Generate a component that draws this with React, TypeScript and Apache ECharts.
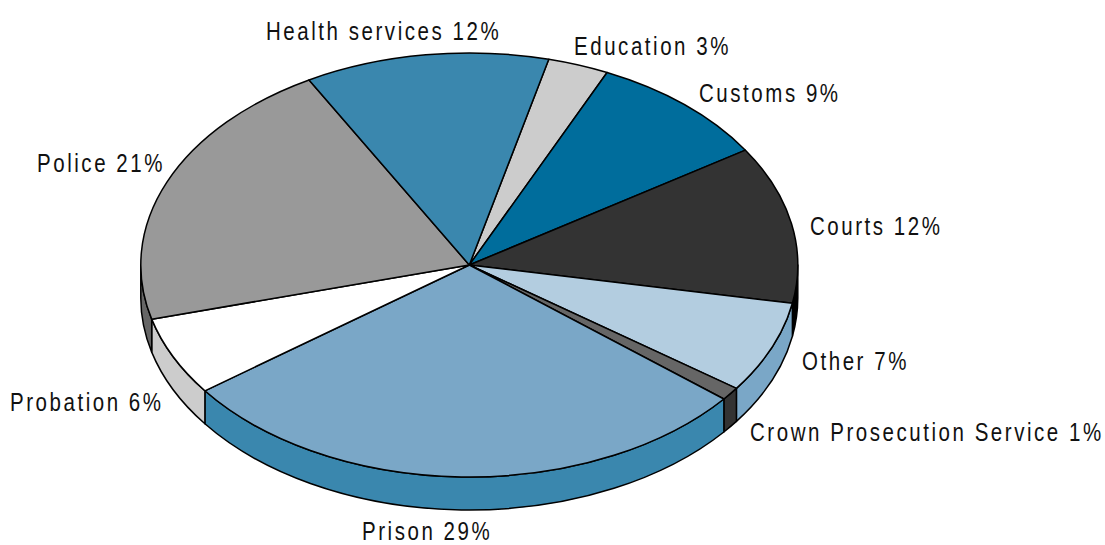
import React, { useEffect, useRef } from "react";
import * as echarts from "echarts";

// Spending shares, clockwise from the Education slice
const categories = ["Education", "Customs", "Courts", "Other", "Crown Prosecution Service", "Prison", "Probation", "Police", "Health services"];
const shares = [3, 9, 12, 7, 1, 29, 6, 21, 12];

const topColours = ["#cccccc", "#006d9c", "#333333", "#b3cde0", "#666666", "#7aa7c7", "#ffffff", "#999999", "#3a87ae"];
const wallColours = ["#999999", "#00527a", "#000000", "#7aa7c7", "#333333", "#3a87ae", "#cccccc", "#666666", "#2c6a8c"];

// Left edge and vertical middle of each slice's caption
const captionSpots: [number, number][] = [
  [574, 46], [699, 93], [810, 226], [802, 361], [750, 432], [362, 531], [10, 402], [37, 163], [266, 31],
];

const CX = 469.3;
const CY = 265;
const RX = 328.5;
const RY = 212;
const DEPTH = 33;
const START_DEG = 76;

const total = shares.reduce((a, b) => a + b, 0);

const point = (deg: number): [number, number] => {
  const t = (deg * Math.PI) / 180;
  return [CX + RX * Math.cos(t), CY - RY * Math.sin(t)];
};

// Path of the flat top of a slice running clockwise from deg a down to deg b
const topPath = (a: number, b: number) => {
  const [x0, y0] = point(a);
  const [x1, y1] = point(b);
  const large = a - b > 180 ? 1 : 0;
  return `M${CX} ${CY}L${x0} ${y0}A${RX} ${RY} 0 ${large} 1 ${x1} ${y1}Z`;
};

// Rim of a slice, clipped to the near half of the ellipse (0 down to -180 degrees)
const wallPath = (a: number, b: number) => {
  const from = Math.min(a, 0);
  const to = Math.max(b, -180);
  if (from <= to) return null;
  const [x0, y0] = point(from);
  const [x1, y1] = point(to);
  return `M${x0} ${y0}A${RX} ${RY} 0 0 1 ${x1} ${y1}L${x1} ${y1 + DEPTH}A${RX} ${RY} 0 0 0 ${x0} ${y0 + DEPTH}Z`;
};

const outline = { stroke: "#000000", lineWidth: 1.5, lineJoin: "round" };

const renderSlice = (params: any, api: any) => {
  const i = params.dataIndex;
  const before = shares.slice(0, i).reduce((a, b) => a + b, 0);
  const a = START_DEG - (before / total) * 360;
  const b = a - (api.value(0) / total) * 360;
  const children: any[] = [];
  const wall = wallPath(a, b);
  if (wall) {
    children.push({
      type: "path",
      shape: { pathData: wall },
      style: { fill: wallColours[i], ...outline },
    });
  }
  children.push({
    type: "path",
    shape: { pathData: topPath(a, b) },
    style: { fill: topColours[i], ...outline },
  });
  // Liberation Sans squeezed horizontally stands in for a narrow grotesque
  children.push({
    type: "text",
    x: captionSpots[i][0],
    y: captionSpots[i][1],
    scaleX: 0.82,
    style: {
      text: `${categories[i]} ${shares[i]}%`,
      x: 0,
      y: 0,
      align: "left",
      verticalAlign: "middle",
      fill: "#111111",
      fontFamily: '"Liberation Sans", Arial, sans-serif',
      fontSize: 25,
    },
  });
  return { type: "group", children };
};

export default function App() {
  const ref = useRef<HTMLDivElement>(null);
  useEffect(() => {
    const chart = echarts.init(ref.current!, null, { renderer: "svg" });
    chart.setOption({
      animation: false,
      backgroundColor: "#ffffff",
      series: [
        {
          type: "custom",
          coordinateSystem: "none",
          silent: true,
          clip: false,
          renderItem: renderSlice,
          data: shares.map((v, i) => ({ name: categories[i], value: [v] })),
        },
      ],
    });
    return () => chart.dispose();
  }, []);
  return (
    <div
      ref={ref}
      style={{ position: "absolute", left: 0, top: 0, width: 1105, height: 545, letterSpacing: "3.1px" }}
    />
  );
}
